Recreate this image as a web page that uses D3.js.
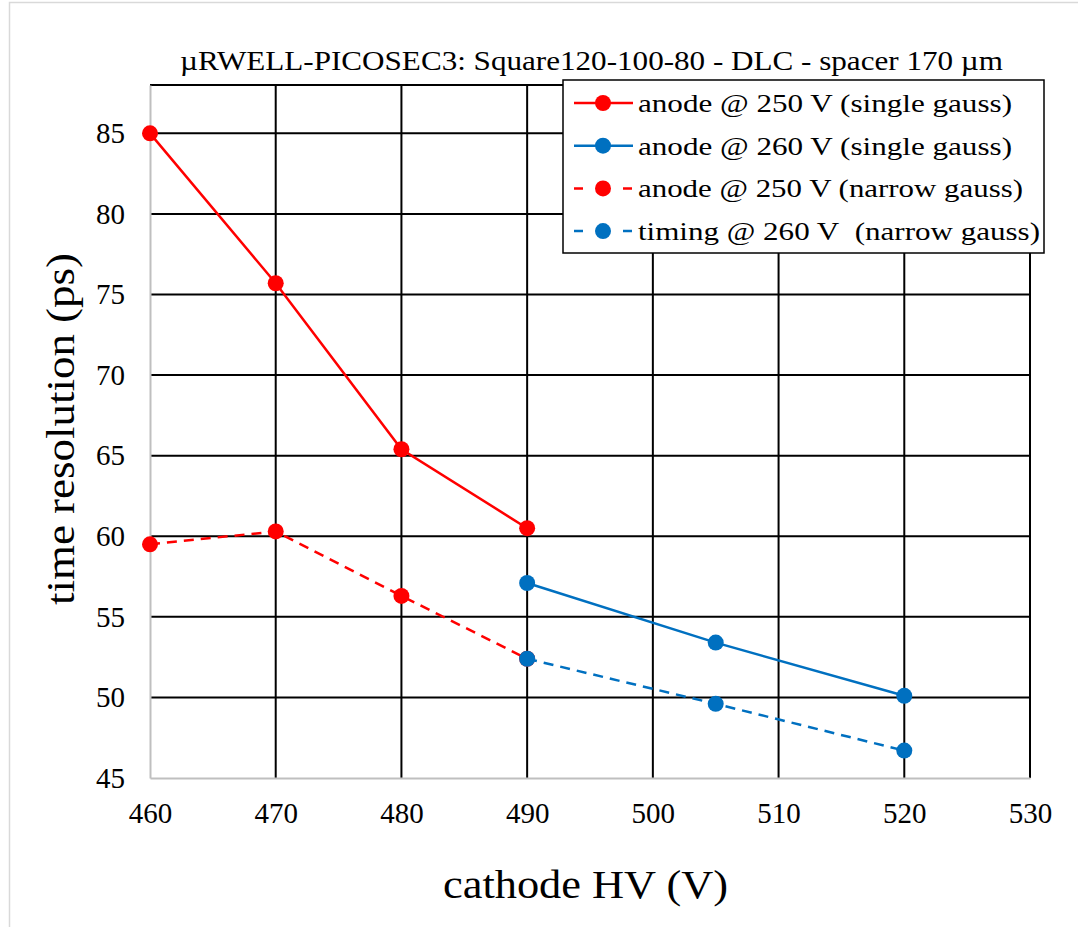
<!DOCTYPE html>
<html>
<head>
<meta charset="utf-8">
<script src="https://cdn.jsdelivr.net/npm/d3@7"></script>
<style>
  body { margin: 0; background: #fff; }
  text { font-family: "Liberation Serif", "Times New Roman", serif; fill: #000; }
</style>
</head>
<body>
<svg id="chart" width="1078" height="927"></svg>
<script>
// data
let hvLow = [460, 470, 480, 490];
let hvHigh = [490, 505, 520];
let anode250Single = [85.0, 75.7, 65.4, 60.5];
let anode260Single = [57.1, 53.4, 50.1];
let anode250Narrow = [59.5, 60.3, 56.3, 52.4];
let timing260Narrow = [52.4, 49.6, 46.7];
let xTicks = [460, 470, 480, 490, 500, 510, 520, 530];
let yTicks = [45, 50, 55, 60, 65, 70, 75, 80, 85];

let series = [
  {name: 'anode @ 250 V (single gauss)', x: hvLow, y: anode250Single, color: '#ff0000', dash: null, w: 374},
  {name: 'anode @ 260 V (single gauss)', x: hvHigh, y: anode260Single, color: '#0070c0', dash: null, w: 374},
  {name: 'anode @ 250 V (narrow gauss)', x: hvLow, y: anode250Narrow, color: '#ff0000', dash: '10,7', w: 385},
  {name: 'timing @ 260 V\u00a0 (narrow gauss)', x: hvHigh, y: timing260Narrow, color: '#0070c0', dash: '10,7', w: 402}
];

let svg = d3.select('#chart');

//outer chart frame
svg.append('rect')
  .attr('x', 9.5).attr('y', 2.5)
  .attr('width', 1080).attr('height', 940)
  .attr('fill', 'none').attr('stroke', '#d9d9d9').attr('stroke-width', 1.5);

let plotLeft = 150, plotRight = 1030, plotTop = 85, plotBottom = 778;

let x = d3.scaleLinear().domain([460, 530]).range([plotLeft, plotRight]);
let y = d3.scaleLinear().domain([45, 88]).range([plotBottom, plotTop]);

//grid
let grid = svg.append('g');
grid.selectAll('.hgrid')
  .data(yTicks.slice(1).concat([88]))
  .join('line')
  .attr('class', 'hgrid')
  .attr('x1', plotLeft).attr('x2', plotRight)
  .attr('y1', d => y(d)).attr('y2', d => y(d))
  .attr('stroke', '#000').attr('stroke-width', 2);
grid.selectAll('.vgrid')
  .data(xTicks.slice(1))
  .join('line')
  .attr('class', 'vgrid')
  .attr('x1', d => x(d)).attr('x2', d => x(d))
  .attr('y1', plotTop).attr('y2', plotBottom)
  .attr('stroke', '#000').attr('stroke-width', 2);

//axes
let xAxis = svg.append('g')
  .attr('transform', 'translate(0,' + plotBottom + ')')
  .call(d3.axisBottom(x).tickValues(xTicks).tickSize(0).tickPadding(24));
let yAxis = svg.append('g')
  .attr('transform', 'translate(' + plotLeft + ',0)')
  .call(d3.axisLeft(y).tickValues(yTicks).tickSize(0).tickPadding(25));
[xAxis, yAxis].forEach(a => {
  a.select('.domain').attr('stroke', '#bfbfbf').attr('stroke-width', 2);
  a.selectAll('text').attr('font-size', 29);
});

//series
let line = d3.line().x(d => x(d[0])).y(d => y(d[1]));
series.forEach(s => {
  let pts = s.x.map((v, i) => [v, s.y[i]]);
  svg.append('path')
    .datum(pts)
    .attr('d', line)
    .attr('fill', 'none')
    .attr('stroke', s.color)
    .attr('stroke-width', 2.5)
    .attr('stroke-dasharray', s.dash);
  svg.append('g').selectAll('circle')
    .data(pts)
    .join('circle')
    .attr('cx', d => x(d[0])).attr('cy', d => y(d[1]))
    .attr('r', 8)
    .attr('fill', s.color);
});

//title
svg.append('text')
  .attr('x', 180).attr('y', 70)
  .attr('font-size', 27)
  .attr('textLength', 823).attr('lengthAdjust', 'spacingAndGlyphs')
  .text('\u00b5RWELL-PICOSEC3: Square120-100-80 - DLC - spacer 170 \u00b5m');

//axis titles
svg.append('text')
  .attr('x', 443).attr('y', 898)
  .attr('font-size', 40)
  .attr('textLength', 285).attr('lengthAdjust', 'spacingAndGlyphs')
  .text('cathode HV (V)');
svg.append('text')
  .attr('transform', 'translate(74,605) rotate(-90)')
  .attr('font-size', 40)
  .attr('textLength', 352).attr('lengthAdjust', 'spacingAndGlyphs')
  .text('time resolution (ps)');

//legend
let legend = svg.append('g');
legend.append('rect')
  .attr('x', 563).attr('y', 80)
  .attr('width', 481).attr('height', 173)
  .attr('fill', '#fff').attr('stroke', '#000').attr('stroke-width', 1.5);
let rows = legend.selectAll('.row')
  .data(series)
  .join('g')
  .attr('transform', (d, i) => 'translate(0,' + (103 + i * 42.7) + ')');
rows.append('line')
  .attr('x1', 574).attr('x2', 633)
  .attr('stroke', d => d.color).attr('stroke-width', 2.5)
  .attr('stroke-dasharray', d => d.dash ? '9,40' : null);
rows.append('circle')
  .attr('cx', 603).attr('r', 8)
  .attr('fill', d => d.color);
rows.append('text')
  .attr('x', 638).attr('y', 9)
  .attr('font-size', 25)
  .attr('textLength', d => d.w).attr('lengthAdjust', 'spacingAndGlyphs')
  .text(d => d.name);
</script>
</body>
</html>
